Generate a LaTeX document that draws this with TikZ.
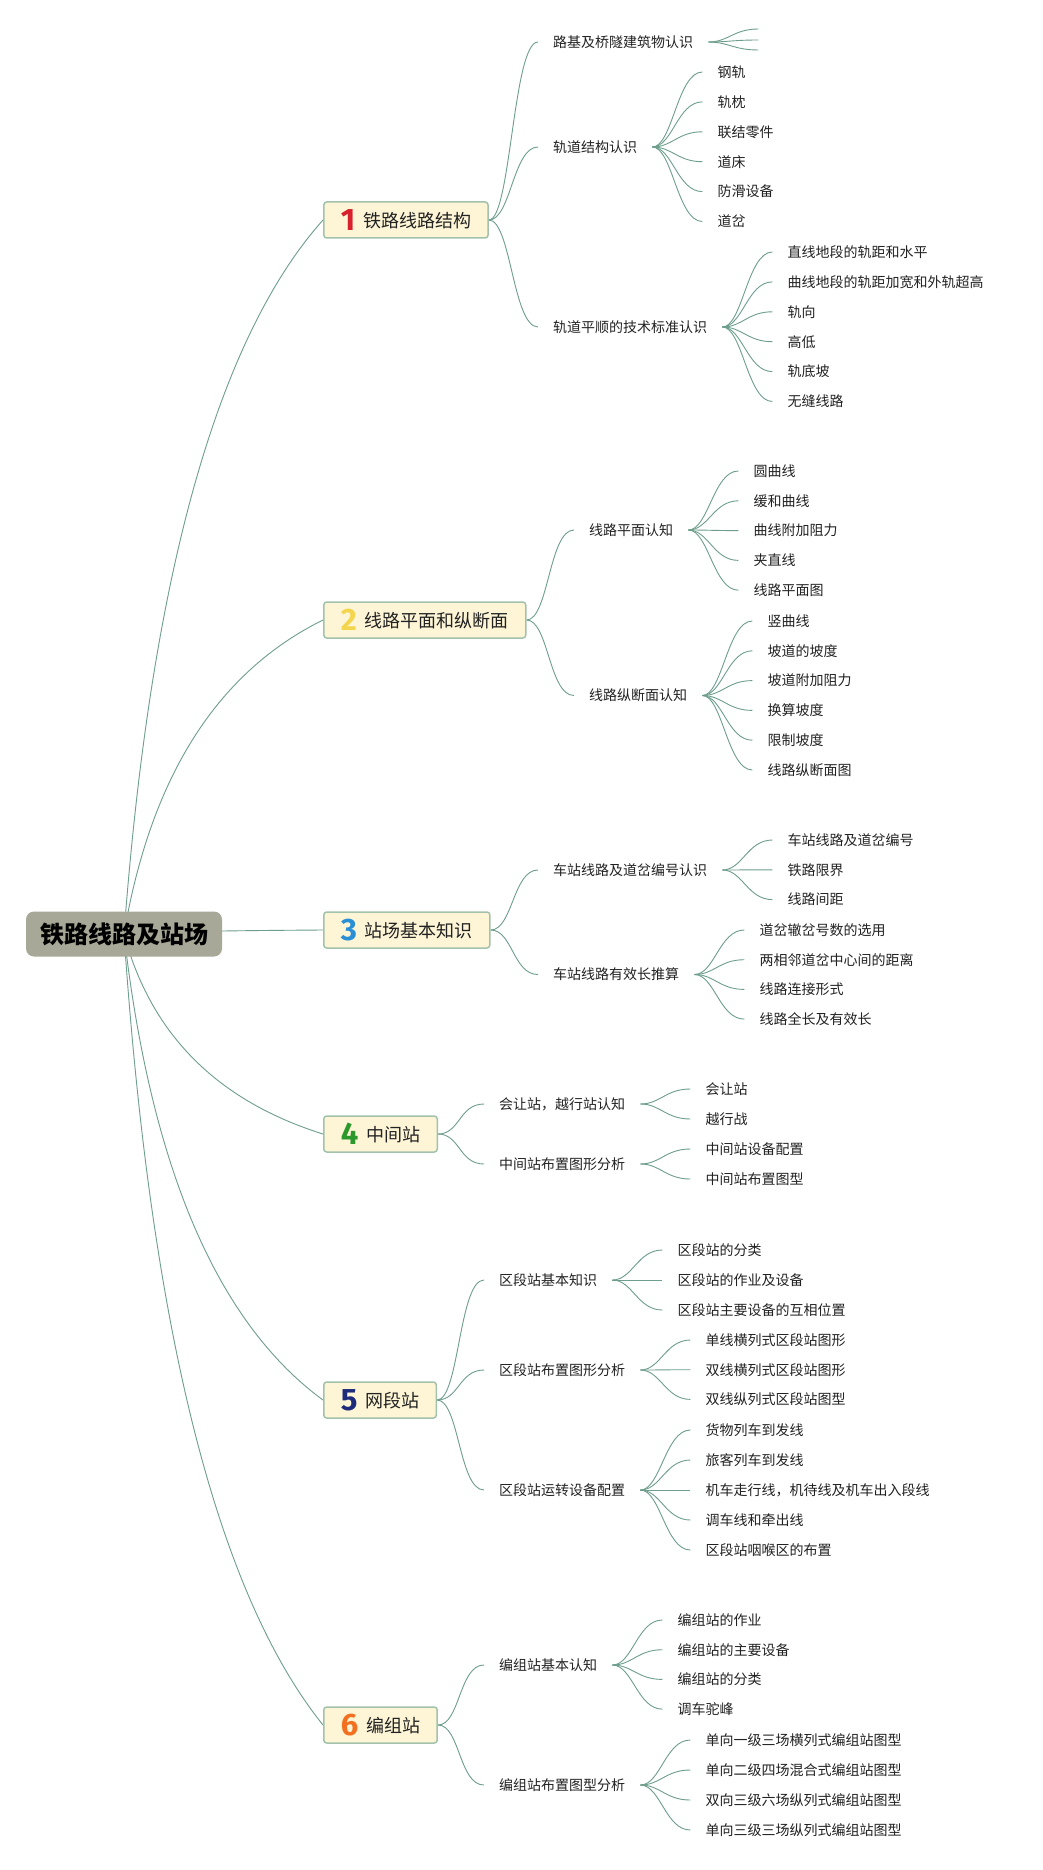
\documentclass[tikz,border=0pt]{standalone}
\usepackage{fontspec}
\setmainfont{Noto Sans CJK SC}
\newfontfamily\numfont{Fira Sans}
\usetikzlibrary{calc}
\pgfdeclarelayer{bg}
\pgfsetlayers{bg,main}
\definecolor{linec}{HTML}{6E9E8C}
\definecolor{boxfill}{HTML}{FDF5D6}
\definecolor{boxline}{HTML}{A3C2AB}
\definecolor{rootfill}{HTML}{A8A898}
\definecolor{txt}{HTML}{222222}
\definecolor{nA}{HTML}{D7222D}
\definecolor{nB}{HTML}{F3D64E}
\definecolor{nC}{HTML}{2B8FD6}
\definecolor{nD}{HTML}{2C982C}
\definecolor{nE}{HTML}{1E2A7A}
\definecolor{nF}{HTML}{F27121}
\tikzset{
  rootbox/.style={fill=rootfill, rounded corners=8pt, minimum height=45pt, inner xsep=14pt, inner ysep=0pt,
    text=black, font=\fontsize{24}{28}\selectfont\bfseries},
  topicbox/.style={draw=boxline, line width=1.5pt, fill=boxfill, rounded corners=3pt, minimum height=36pt,
    inner xsep=17pt, inner ysep=0pt, anchor=west, text=txt, font=\fontsize{18}{20}\selectfont},
  subtopic/.style={anchor=west, inner xsep=15pt, inner ysep=1pt, text=txt, font=\fontsize{14}{16}\selectfont},
  leaf/.style={subtopic},
  conn/.style={draw=linec, line width=0.9pt},
}
\newcommand\numicon[2]{\raisebox{-3pt}{\numfont\bfseries\fontsize{31}{31}\selectfont\color{#1}#2}\hspace{8pt}}
\newcommand\leafset[4]{%
  \foreach \t [count=\i from 0] in {#4}{%
    \pgfmathsetmacro\yy{#2+#3*\i}%
    \node[leaf, xshift=50pt] (#1k\i) at (#1.east |- 0,\yy) {\t};
    \begin{pgfonlayer}{bg}
      \draw[conn] (#1.east) .. controls +(20,0) and +(-25,0) .. (#1k\i.west);
    \end{pgfonlayer}
  }}
\newcommand\sublink[2]{%
  \begin{pgfonlayer}{bg}
    \draw[conn] (#1.east) .. controls +(22,0) and +(-25,0) .. (#2.west);
  \end{pgfonlayer}}
\newcommand\rootlink[2]{%
  \begin{pgfonlayer}{bg}
    \draw[conn] (root.center) .. controls ($(root.center)!0.6667!(#2)$) and ($(#1.west)!0.6667!(#2)$) .. (#1.west);
  \end{pgfonlayer}}
\begin{document}
\begin{tikzpicture}[x=1pt, y=-1pt]
\begin{pgfonlayer}{bg}
\fill[white] (0,0) rectangle (1043,1870);
\end{pgfonlayer}
\useasboundingbox (0,0) rectangle (1043,1870);

% root
\node[rootbox] (root) at (124,934) {铁路线路及站场};

% main topics
\node[topicbox] (b1) at (323,220) {\numicon{nA}{1}铁路线路结构};
\node[topicbox] (b2) at (323,620) {\numicon{nB}{2}线路平面和纵断面};
\node[topicbox] (b3) at (323,930) {\numicon{nC}{3}站场基本知识};
\node[topicbox] (b4) at (323,1134) {\numicon{nD}{4}中间站};
\node[topicbox] (b5) at (323,1400) {\numicon{nE}{5}网段站};
\node[topicbox] (b6) at (323,1725) {\numicon{nF}{6}编组站};

\rootlink{b1}{164,398.5}
\rootlink{b2}{164,698.5}
\rootlink{b3}{164,931}
\rootlink{b4}{164,1084}
\rootlink{b5}{164,1283.5}
\rootlink{b6}{164,1527}

% subtopics
\node[subtopic] (s11) at (538,42) {路基及桥隧建筑物认识};
\node[subtopic] (s12) at (538,147) {轨道结构认识};
\node[subtopic] (s13) at (538,327) {轨道平顺的技术标准认识};
\node[subtopic] (s21) at (574,530) {线路平面认知};
\node[subtopic] (s22) at (574,695.5) {线路纵断面认知};
\node[subtopic] (s31) at (538,870) {车站线路及道岔编号认识};
\node[subtopic] (s32) at (538,974.5) {车站线路有效长推算};
\node[subtopic] (s41) at (484,1104) {会让站，越行站认知};
\node[subtopic] (s42) at (484,1164) {中间站布置图形分析};
\node[subtopic] (s51) at (484,1280) {区段站基本知识};
\node[subtopic] (s52) at (484,1370) {区段站布置图形分析};
\node[subtopic] (s53) at (484,1490) {区段站运转设备配置};
\node[subtopic] (s61) at (484,1665) {编组站基本认知};
\node[subtopic] (s62) at (484,1785) {编组站布置图型分析};

\sublink{b1}{s11}\sublink{b1}{s12}\sublink{b1}{s13}
\sublink{b2}{s21}\sublink{b2}{s22}
\sublink{b3}{s31}\sublink{b3}{s32}
\sublink{b4}{s41}\sublink{b4}{s42}
\sublink{b5}{s51}\sublink{b5}{s52}\sublink{b5}{s53}
\sublink{b6}{s61}\sublink{b6}{s62}

% empty children of s11
\foreach \yy [count=\i] in {29,40,50}{
  \coordinate (e\i) at ([xshift=50pt]s11.east |- 0,\yy);
  \begin{pgfonlayer}{bg}
    \draw[conn] (s11.east) .. controls +(20,0) and +(-25,0) .. (e\i);
  \end{pgfonlayer}
}

% leaves
\leafset{s12}{72}{29.9}{钢轨,轨枕,联结零件,道床,防滑设备,道岔}
\leafset{s13}{252}{29.9}{直线地段的轨距和水平,曲线地段的轨距加宽和外轨超高,轨向,高低,轨底坡,无缝线路}
\leafset{s21}{471}{29.8}{圆曲线,缓和曲线,曲线附加阻力,夹直线,线路平面图}
\leafset{s22}{621}{29.8}{竖曲线,坡道的坡度,坡道附加阻力,换算坡度,限制坡度,线路纵断面图}
\leafset{s31}{840}{29.8}{车站线路及道岔编号,铁路限界,线路间距}
\leafset{s32}{930}{29.7}{道岔辙岔号数的选用,两相邻道岔中心间的距离,线路连接形式,线路全长及有效长}
\leafset{s41}{1089}{30}{会让站,越行战}
\leafset{s42}{1149}{30}{中间站设备配置,中间站布置图型}
\leafset{s51}{1250}{30}{区段站的分类,区段站的作业及设备,区段站主要设备的互相位置}
\leafset{s52}{1340}{29.7}{单线横列式区段站图形,双线横列式区段站图形,双线纵列式区段站图型}
\leafset{s53}{1430}{30}{货物列车到发线,旅客列车到发线,机车走行线，机待线及机车出入段线,调车线和牵出线,区段站咽喉区的布置}
\leafset{s61}{1620}{29.7}{编组站的作业,编组站的主要设备,编组站的分类,调车驼峰}
\leafset{s62}{1740}{30}{单向一级三场横列式编组站图型,单向二级四场混合式编组站图型,双向三级六场纵列式编组站图型,单向三级三场纵列式编组站图型}
\end{tikzpicture}
\end{document}
